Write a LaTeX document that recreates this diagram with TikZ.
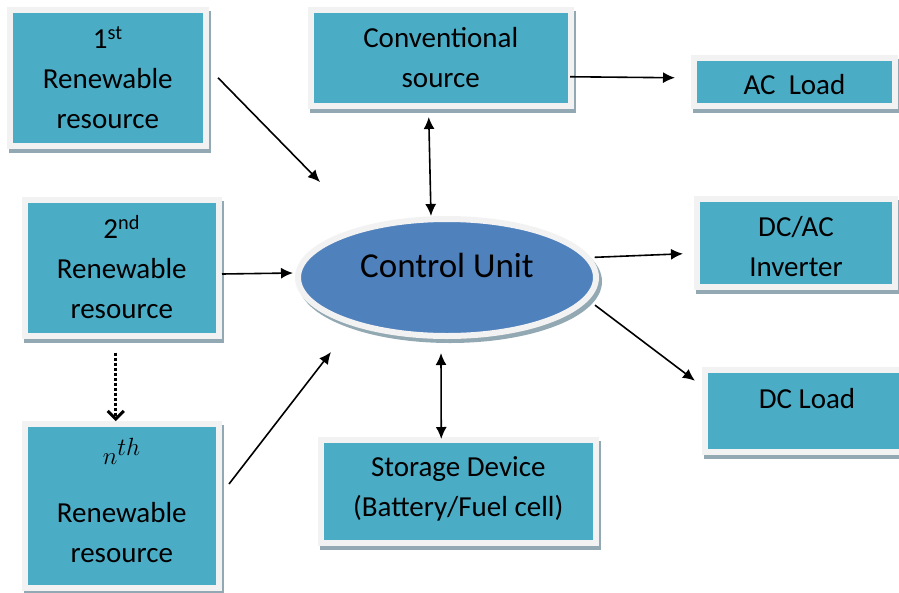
\documentclass[tikz,border=0pt]{standalone}
\usepackage{fontspec}
\setmainfont{Carlito}
\usepackage{tikz}
\usetikzlibrary{arrows.meta, shapes.geometric, shadows}
\definecolor{boxteal}{RGB}{75,172,198}
\definecolor{unitblue}{RGB}{79,129,189}
\definecolor{rimgray}{RGB}{242,242,242}
\definecolor{shadegray}{RGB}{146,168,178}

\begin{document}
\begin{tikzpicture}[x=1pt, y=-1pt, line width=1.6pt,
        every node/.append style={font=\fontsize{29}{40}\selectfont, align=center, inner sep=0pt}]
      \tikzstyle{block} = [rectangle, fill=boxteal, draw=rimgray, line width=6pt,
        drop shadow={shadow xshift=2pt, shadow yshift=-4pt, fill=shadegray, draw=shadegray, line width=6pt, opacity=1}]
      \tikzstyle{arr} = [-{Latex[length=12pt, width=11pt]}]
      \tikzstyle{biarr} = [{Latex[length=12pt, width=11pt]}-{Latex[length=12pt, width=11pt]}]
      \useasboundingbox (0,0) rectangle (899,592);
      % sources on the left
      \node (res1) [block, minimum width=195.5pt, minimum height=135.5pt] at (107.75,77.75) {1\textsuperscript{st}\\Renewable\\resource};
      \node (res2) [block, minimum width=194.5pt, minimum height=136pt] at (121.75,267.5) {2\textsuperscript{nd}\\Renewable\\resource};
      \node (resn) [block, minimum width=194.5pt, minimum height=164pt] at (121.75,506)
        {{\fontsize{34}{40}\selectfont $n^{th}$}\\[18pt]Renewable\\resource\rule[-12pt]{0pt}{12pt}};
      % centre
      \node (cu) [ellipse, fill=unitblue, draw=rimgray, line width=6pt, minimum width=298pt, minimum height=117pt,
        font=\fontsize{35}{40}\selectfont, text height=26pt, text depth=26pt,
        drop shadow={shadow xshift=3pt, shadow yshift=-4pt, fill=shadegray, draw=shadegray, line width=6pt, opacity=1}]
        at (447,277.5) {Control Unit};
      \node (conv) [block, minimum width=260.5pt, minimum height=96.5pt] at (440.75,57.75) {Conventional\\source};
      \node (stor) [block, minimum width=274.5pt, minimum height=103pt] at (458.25,491.5) {Storage Device\\(Battery/Fuel cell)\rule[-9pt]{0pt}{9pt}};
      % loads on the right
      \node (ac) [block, minimum width=201pt, minimum height=48.5pt, text height=24.5pt, text depth=0pt] at (794.5,81.75) {AC\ \ Load};
      \node (dcac) [block, minimum width=198pt, minimum height=87.5pt] at (796,242.75) {\rule{0pt}{28.5pt}DC/AC\\Inverter};
      \node (dcl) [block, minimum width=204pt, minimum height=81.5pt, text height=20pt, text depth=25pt] at (807,410.75) {DC Load};
      \coordinate (in1) at (320,182);
      \coordinate (in3) at (331,352);
      \draw[arr] ([xshift=9.5pt]res1.east) -- (in1);
      \draw[arr] ([yshift=-6.5pt]res2.east) -- ([xshift=-2pt, yshift=4.5pt]cu.west);
      \draw[arr] ([xshift=7pt, yshift=22pt]resn.east) -- (in3);
      \draw[dotted, line width=3pt, -{Straight Barb[length=8pt, width=16pt]}] ([xshift=-6pt, yshift=-14pt]res2.south) -- ([xshift=-6pt]resn.north);
      \draw[biarr] ([xshift=-12pt, yshift=-8pt]conv.south) -- ([xshift=-16pt]cu.north);
      \draw[biarr] ([xshift=-6pt, yshift=-14pt]cu.south) -- ([xshift=-17pt, yshift=-2pt]stor.north);
      \draw[arr] ([xshift=-4pt, yshift=-19pt]conv.east) -- ([xshift=-16pt, yshift=4pt]ac.west);
      \draw[arr] ([xshift=4pt]cu.8) -- ([xshift=-11pt, yshift=-11pt]dcac.west);
      \draw[arr] ([xshift=11pt, yshift=-1pt]cu.-11) -- ([xshift=-7pt, yshift=30pt]dcl.west);
    \end{tikzpicture}
\end{document}
